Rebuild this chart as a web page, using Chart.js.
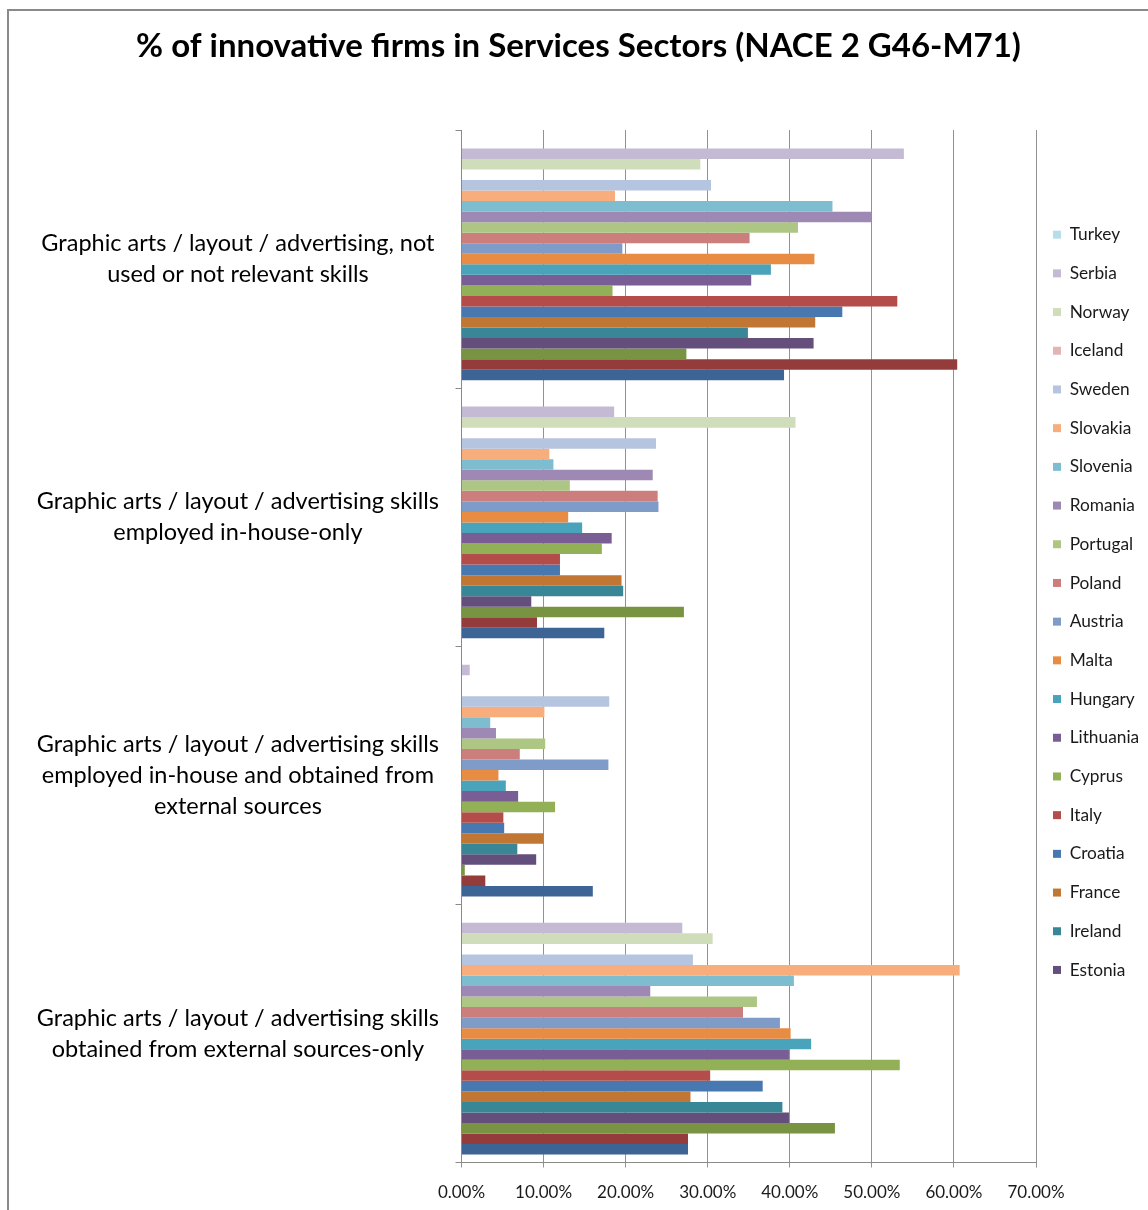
<!DOCTYPE html>
<html>
<head>
<meta charset="utf-8">
<script src="https://cdn.jsdelivr.net/npm/chart.js@4.4.0/dist/chart.umd.min.js"></script>
<style>
  html, body { margin: 0; padding: 0; background: #fff; overflow: hidden; }
  #frame { position: absolute; left: 7px; top: 9px; width: 1160px; height: 1220px;
           border-left: 2px solid #8a8a8a; border-top: 2px solid #8a8a8a; }
  #wrap { position: absolute; left: 9px; top: 11px; width: 1139px; height: 1199px; }
</style>
</head>
<body>
<div id="frame"></div>
<div id="wrap"><canvas id="chart"></canvas></div>
<script>
// Categories (top to bottom)
const categories = [
    ['Graphic arts / layout / advertising, not', 'used or not relevant skills'],
    ['Graphic arts / layout / advertising skills', 'employed in-house-only'],
    ['Graphic arts / layout / advertising skills', 'employed in-house and obtained from', 'external sources'],
    ['Graphic arts / layout / advertising skills', 'obtained from external sources-only']
];

// Series, in the order the bars appear within each group (top first)
const countries = ['Turkey', 'Serbia', 'Norway', 'Iceland', 'Sweden', 'Slovakia', 'Slovenia',
    'Romania', 'Portugal', 'Poland', 'Austria', 'Malta', 'Hungary', 'Lithuania', 'Cyprus',
    'Italy', 'Croatia', 'France', 'Ireland', 'Estonia', 'Czech Republic', 'Bulgaria', 'Belgium'];

const colors = ['#B7DDE8', '#C4BAD4', '#CFDDBB', '#E2B5B4', '#B6C5DF', '#F8AD7C', '#7EBCD0',
    '#9D89B3', '#AEC684', '#CB7E7C', '#7F9CC8', '#E88C44', '#48A3BB', '#785E95', '#92B055',
    '#B44C4A', '#4878B0', '#C27634', '#398696', '#634E7C', '#789342', '#943C3B', '#3C6495'];

// % of firms, one value per country (same order as countries)
const notUsed = [null, 53.9, 29.1, null, 30.4, 18.7, 45.2, 49.9, 41.0, 35.1, 19.6, 43.0, 37.7,
    35.3, 18.4, 53.1, 46.4, 43.1, 34.9, 42.9, 27.4, 60.4, 39.3];
const inHouseOnly = [null, 18.6, 40.7, null, 23.7, 10.7, 11.2, 23.3, 13.2, 23.9, 24.0, 13.0, 14.7,
    18.3, 17.1, 12.0, 12.0, 19.5, 19.7, 8.5, 27.1, 9.2, 17.4];
const inHouseAndExternal = [null, 1.0, null, null, 18.0, 10.1, 3.5, 4.2, 10.2, 7.1, 17.9, 4.5, 5.4,
    6.9, 11.4, 5.1, 5.2, 10.0, 6.8, 9.1, 0.4, 2.9, 16.0];
const externalOnly = [null, 26.9, 30.6, null, 28.2, 60.7, 40.5, 23.0, 36.0, 34.3, 38.8, 40.1, 42.6,
    39.9, 53.4, 30.3, 36.7, 27.9, 39.1, 39.9, 45.5, 27.6, 27.6];

const xTicks = [0, 10, 20, 30, 40, 50, 60, 70];

const labelFont = 'Lato';

const datasets = countries.map((name, i) => ({
    label: name,
    data: [notUsed[i], inHouseOnly[i], inHouseAndExternal[i], externalOnly[i]],
    backgroundColor: colors[i],
    borderWidth: 0,
    categoryPercentage: 23 / 24.5,
    barPercentage: 1.0
}));

new Chart(document.getElementById('chart'), {
    type: 'bar',
    data: { labels: categories, datasets: datasets },
    options: {
        indexAxis: 'y',
        responsive: true,
        maintainAspectRatio: false,
        animation: false,
        layout: { padding: 0 },
        plugins: {
            title: {
                display: true,
                text: '% of innovative firms in Services Sectors (NACE 2 G46-M71)',
                color: '#000',
                font: { family: labelFont, size: 33, weight: 'bold', lineHeight: 1.2 },
                padding: { top: 16, bottom: 63.4 }
            },
            legend: {
                position: 'right',
                align: 'start',
                maxWidth: 112,
                // blank title only pushes the entries down
                title: { display: true, text: ' ', font: { size: 10, lineHeight: 1.2 }, padding: { top: 93, bottom: 93 } },
                labels: {
                    boxWidth: 8,
                    boxHeight: 8,
                    padding: 17,
                    color: '#1a1a1a',
                    font: { family: labelFont, size: 17.3, lineHeight: 21.7 / 17.3 },
                    // text as one-line arrays so the row height follows font.lineHeight
                    generateLabels: chart => Chart.defaults.plugins.legend.labels.generateLabels(chart)
                        .map(item => Object.assign(item, { text: [item.text] })),
                    filter: item => item.datasetIndex < 20
                }
            },
            tooltip: { enabled: false }
        },
        scales: {
            x: {
                min: 0,
                max: 70,
                afterBuildTicks: s => { s.ticks = xTicks.map(v => ({ value: v })); },
                afterFit: s => { s.height = 42; },
                ticks: {
                    padding: 15,
                    color: '#1a1a1a',
                    font: { family: labelFont, size: 17 },
                    callback: v => v.toFixed(2) + '%'
                },
                grid: { color: '#929292', tickLength: 5 },
                border: { color: '#8a8a8a' }
            },
            y: {
                afterFit: s => { s.width = 452.5; },
                grid: { drawOnChartArea: false, tickLength: 6, color: '#8a8a8a' },
                border: { color: '#8a8a8a' },
                ticks: {
                    crossAlign: 'center',
                    padding: 16.5,
                    color: '#000',
                    font: { family: labelFont, size: 23.5, lineHeight: 31 / 23.5 }
                }
            }
        }
    }
});
</script>
</body>
</html>
